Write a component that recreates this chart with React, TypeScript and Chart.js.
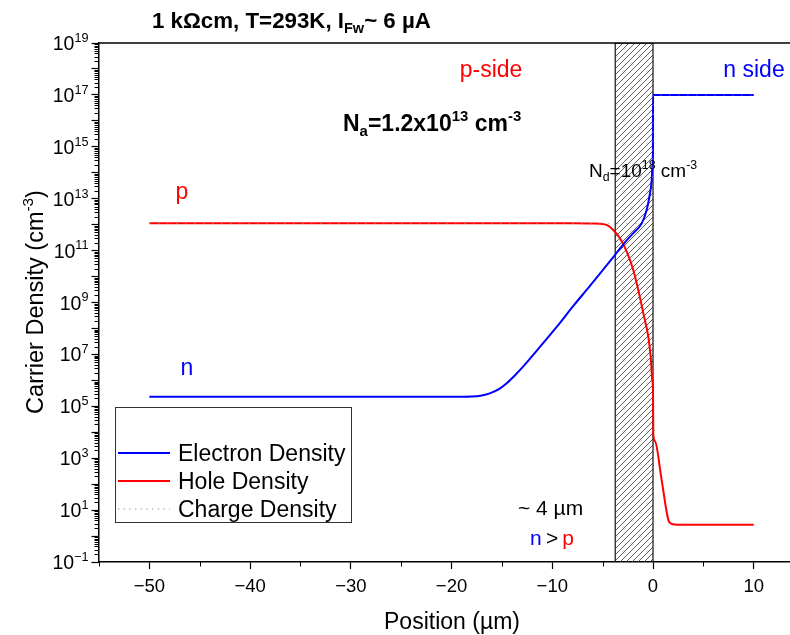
import React, { useEffect, useRef } from 'react';
import { Chart, registerables } from 'chart.js';

Chart.register(...registerables);

const FONT = '"Liberation Sans", Arial, Helvetica, sans-serif';
const BLUE = '#0000ff';
const RED = '#ff0000';

// ---- data (position in µm, density in cm^-3) ----
const electronX = [-50, -30, -20, -18, -17, -16.2, -15.3, -14.5, -13.7, -12.9, -11.2, -9.5, -7.95, -6.26, -4.57, -3.78, -2.58, -1.96, -1.12, -0.63, -0.3, -0.13, -0.05, -0.01, 0, 0.3, 10];
const electronY = [2.34e5, 2.34e5, 2.34e5, 2.4e5, 2.63e5, 3.16e5, 4.57e5, 7.94e5, 1.58e6, 3.39e6, 2.0e7, 1.23e8, 7.08e8, 4.37e9, 2.82e10, 6.76e10, 2.57e11, 4.68e11, 1.12e12, 3.63e12, 1.62e13, 5.25e13, 2e14, 6.3e14, 1e17, 1e17, 1e17];

const holeX = [-50, -20, -8, -6, -5.27, -4.5, -3.95, -3.28, -2.61, -1.96, -1.46, -0.96, -0.47, -0.23, -0.07, 0.0, 0.03, 0.2, 0.85, 1.52, 1.8, 2.3, 3, 10];
const holeY = [1.12e12, 1.12e12, 1.12e12, 1.1e12, 1.08e12, 9.3e11, 6.2e11, 3e11, 9.1e10, 1.8e10, 3e9, 3.8e8, 4.8e7, 8.1e6, 1e6, 4e5, 8e3, 4.5e3, 1.5e2, 4.2, 3.0, 2.75, 2.7, 2.7];

const chargeX = [-50, -0.05, 0, 10];
const chargeY = [1.12e12, 1.12e12, 1e17, 1e17];

const depletionX = [-3.75, -3.75, 0, 0];
const depletionY = [0.1, 1e19, 1e19, 0.1];

// ---- axes ----
const xMajorTicks = [-50, -40, -30, -20, -10, 0, 10];
const xMinorTicks = [-55, -45, -35, -25, -15, -5, 5];
const yDecades = [-1, 0, 1, 2, 3, 4, 5, 6, 7, 8, 9, 10, 11, 12, 13, 14, 15, 16, 17, 18, 19];
const yLabelExps = [-1, 1, 3, 5, 7, 9, 11, 13, 15, 17, 19];
const yMinorMultipliers = [2, 3, 4, 5, 6, 7, 8, 9];

const legendItems = [
  { label: 'Electron Density', color: BLUE, dash: [] as number[], width: 2 },
  { label: 'Hole Density', color: RED, dash: [] as number[], width: 2 },
  { label: 'Charge Density', color: '#888888', dash: [1.2, 4.5], width: 1.2 },
];

type Seg = { t: string; c?: string; s?: 'sup' | 'sub' };

function drawRich(
  ctx: CanvasRenderingContext2D,
  segs: Seg[],
  x: number,
  y: number,
  size: number,
  opts: { bold?: boolean; align?: 'left' | 'center' | 'right'; color?: string } = {}
) {
  const w = opts.bold ? 'bold ' : '';
  const small = size * 0.65;
  const fontFor = (s?: string) => `${w}${s ? small : size}px ${FONT}`;
  let total = 0;
  const widths = segs.map((sg) => {
    ctx.font = fontFor(sg.s);
    const m = ctx.measureText(sg.t).width;
    total += m;
    return m;
  });
  let cx = x;
  if (opts.align === 'center') cx = x - total / 2;
  else if (opts.align === 'right') cx = x - total;
  ctx.textAlign = 'left';
  ctx.textBaseline = 'alphabetic';
  segs.forEach((sg, i) => {
    ctx.font = fontFor(sg.s);
    ctx.fillStyle = sg.c || opts.color || '#000';
    let yy = y;
    if (sg.s === 'sup') yy = y - size * 0.42;
    if (sg.s === 'sub') yy = y + size * 0.22;
    ctx.fillText(sg.t, cx, yy);
    cx += widths[i];
  });
}

const fmtNum = (v: number) => (v < 0 ? '\u2212' + Math.abs(v) : String(v));

const decorPlugin = {
  id: 'decor',
  afterDraw(chart: any) {
    const { ctx, chartArea } = chart;
    const xs = chart.scales.x;
    const ys = chart.scales.y;
    ctx.save();
    // top frame line
    ctx.strokeStyle = '#000';
    ctx.lineWidth = 1.5;
    ctx.beginPath();
    ctx.moveTo(chartArea.left, chartArea.top);
    ctx.lineTo(chartArea.right, chartArea.top);
    ctx.stroke();

    // minor ticks
    ctx.lineWidth = 1;
    ctx.beginPath();
    xMinorTicks.forEach((v) => {
      const px = Math.round(xs.getPixelForValue(v)) + 0.5;
      ctx.moveTo(px, chartArea.bottom);
      ctx.lineTo(px, chartArea.bottom + 4.5);
    });
    yDecades.slice(0, -1).forEach((k) => {
      yMinorMultipliers.forEach((m) => {
        const py = Math.round(ys.getPixelForValue(m * Math.pow(10, k))) + 0.5;
        ctx.moveTo(chartArea.left - 4.5, py);
        ctx.lineTo(chartArea.left, py);
      });
    });
    ctx.stroke();

    // x tick labels
    xMajorTicks.forEach((v) => {
      drawRich(ctx, [{ t: fmtNum(v) }], xs.getPixelForValue(v), 592, 18.5, { align: 'center' });
    });
    // y tick labels
    yLabelExps.forEach((e) => {
      const py = ys.getPixelForValue(Math.pow(10, e));
      drawRich(ctx, [{ t: '10' }, { t: fmtNum(e), s: 'sup' }], 88.5, py + 7, 19.5, { align: 'right' });
    });

    // axis titles
    drawRich(ctx, [{ t: 'Position (\u00b5m)' }], 452, 629, 23, { align: 'center' });
    ctx.save();
    ctx.translate(35, 302);
    ctx.rotate(-Math.PI / 2);
    drawRich(ctx, [{ t: 'Carrier Density (cm' }, { t: '-3', s: 'sup' }, { t: ')' }], 0, 8, 23.5, { align: 'center' });
    ctx.restore();

    // chart title
    drawRich(ctx, [{ t: '1 k\u03a9cm, T=293K, I' }, { t: 'Fw', s: 'sub' }, { t: '~ 6 \u00b5A' }], 152, 28, 22.3, { bold: true });

    // annotations
    drawRich(ctx, [{ t: 'p-side' }], 491, 77, 23, { align: 'center', color: RED });
    drawRich(ctx, [{ t: 'n side' }], 754, 77, 23, { align: 'center', color: BLUE });
    drawRich(ctx, [{ t: 'N' }, { t: 'a', s: 'sub' }, { t: '=1.2x10' }, { t: '13', s: 'sup' }, { t: ' cm' }, { t: '-3', s: 'sup' }], 343, 131, 23, { bold: true });
    drawRich(ctx, [{ t: 'N' }, { t: 'd', s: 'sub' }, { t: '=10' }, { t: '18', s: 'sup' }, { t: ' cm' }, { t: '-3', s: 'sup' }], 589, 177, 19);
    drawRich(ctx, [{ t: 'p' }], 182, 199, 23, { align: 'center', color: RED });
    drawRich(ctx, [{ t: 'n' }], 187, 375, 23, { align: 'center', color: BLUE });
    drawRich(ctx, [{ t: '~ 4 \u00b5m' }], 518, 515, 21);
    drawRich(ctx, [{ t: 'n', c: BLUE }, { t: '\u2009>\u2009' }, { t: 'p', c: RED }], 530, 545, 21);

    // legend
    ctx.fillStyle = '#fff';
    ctx.fillRect(115.5, 407.5, 236, 115);
    ctx.strokeStyle = '#333';
    ctx.lineWidth = 1;
    ctx.strokeRect(115.5, 407.5, 236, 115);
    legendItems.forEach((it, i) => {
      const yy = 453 + i * 28;
      ctx.save();
      ctx.strokeStyle = it.color;
      ctx.lineWidth = it.width;
      ctx.setLineDash(it.dash);
      ctx.beginPath();
      ctx.moveTo(118, yy);
      ctx.lineTo(170, yy);
      ctx.stroke();
      ctx.restore();
      drawRich(ctx, [{ t: it.label }], 178, yy + 8, 23);
    });
    ctx.restore();
  },
};

export default function App() {
  const ref = useRef<HTMLCanvasElement>(null);
  useEffect(() => {
    const canvas = ref.current!;
    const pc = document.createElement('canvas');
    pc.width = 6;
    pc.height = 6;
    const p = pc.getContext('2d')!;
    p.strokeStyle = '#333';
    p.lineWidth = 0.8;
    p.beginPath();
    p.moveTo(0, 6);
    p.lineTo(6, 0);
    p.moveTo(-1, 1);
    p.lineTo(1, -1);
    p.moveTo(5, 7);
    p.lineTo(7, 5);
    p.stroke();
    const pattern = canvas.getContext('2d')!.createPattern(pc, 'repeat');

    const toXY = (xs: number[], ys: number[]) => xs.map((x, i) => ({ x, y: ys[i] }));

    const chart = new Chart(canvas, {
      type: 'line',
      data: {
        datasets: [
          {
            label: 'Electron Density',
            data: toXY(electronX, electronY),
            borderColor: BLUE,
            borderWidth: 2,
            pointRadius: 0,
            cubicInterpolationMode: 'monotone',
            fill: false,
            order: 1,
          },
          {
            label: 'Hole Density',
            data: toXY(holeX, holeY),
            borderColor: RED,
            borderWidth: 2,
            pointRadius: 0,
            cubicInterpolationMode: 'monotone',
            fill: false,
            order: 2,
          },
          {
            label: 'Charge Density',
            data: toXY(chargeX, chargeY),
            borderColor: '#999999',
            borderWidth: 1,
            borderDash: [1, 8],
            pointRadius: 0,
            tension: 0,
            fill: false,
            order: 0,
          },
          {
            label: 'depletion',
            data: toXY(depletionX, depletionY),
            borderColor: '#222',
            borderWidth: 1.3,
            backgroundColor: pattern as any,
            pointRadius: 0,
            tension: 0,
            fill: 'start',
            order: 5,
          },
        ],
      },
      options: {
        animation: false,
        responsive: false,
        devicePixelRatio: 1,
        layout: { padding: { top: 43, right: 0, left: 0, bottom: 0 } },
        plugins: { legend: { display: false }, tooltip: { enabled: false }, title: { display: false } },
        scales: {
          x: {
            type: 'linear',
            min: -55,
            max: 13.6,
            afterBuildTicks: (s: any) => {
              s.ticks = xMajorTicks.map((v) => ({ value: v }));
            },
            afterFit: (s: any) => {
              s.height = 73;
            },
            ticks: { display: false },
            grid: { drawOnChartArea: false, drawTicks: true, tickLength: 7, tickColor: '#000', tickWidth: 1.2 },
            border: { display: true, color: '#000', width: 1.5 },
          },
          y: {
            type: 'logarithmic',
            min: 0.1,
            max: 1e19,
            afterBuildTicks: (s: any) => {
              s.ticks = yDecades.map((k) => ({ value: Math.pow(10, k) }));
            },
            afterFit: (s: any) => {
              s.width = 99;
            },
            ticks: { display: false },
            grid: { drawOnChartArea: false, drawTicks: true, tickLength: 7.5, tickColor: '#000', tickWidth: 1.2 },
            border: { display: true, color: '#000', width: 1.5 },
          },
        },
      },
      plugins: [decorPlugin],
    } as any);
    return () => chart.destroy();
  }, []);
  return (
    <div style={{ position: 'absolute', left: 0, top: 0, width: 790, height: 635, background: '#fff' }}>
      <canvas ref={ref} width={790} height={635} style={{ display: 'block', width: 790, height: 635 }} />
    </div>
  );
}
